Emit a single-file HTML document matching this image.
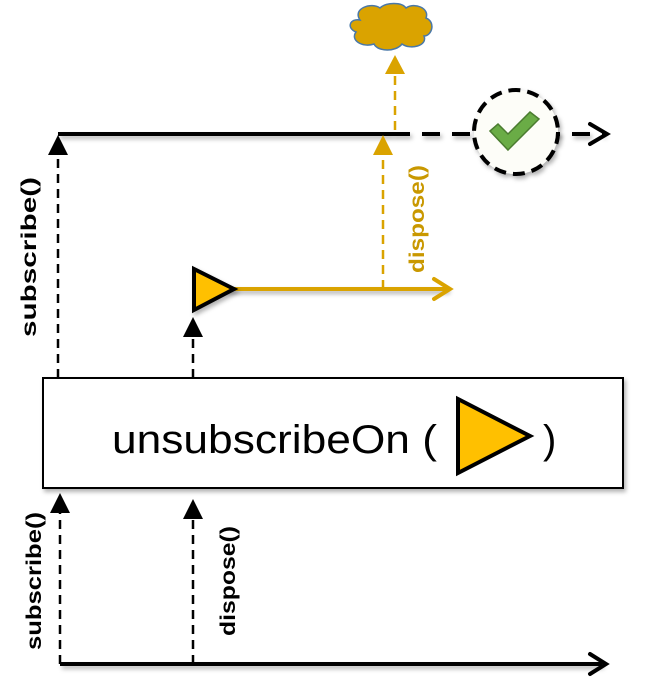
<!DOCTYPE html>
<html><head><meta charset="utf-8"><style>
html,body{margin:0;padding:0;background:#fff;}
svg{display:block;}
text{font-family:"Liberation Sans",sans-serif;}
</style></head><body>
<svg width="646" height="700" viewBox="0 0 646 700" xmlns="http://www.w3.org/2000/svg">
<defs>
<filter id="sh" filterUnits="userSpaceOnUse" x="0" y="0" width="646" height="700"><feDropShadow dx="2" dy="3" stdDeviation="2" flood-color="#000" flood-opacity="0.3"/></filter>
</defs>
<line x1="58" y1="134" x2="392" y2="134" stroke="#000" stroke-width="4" filter="url(#sh)"/>
<line x1="392" y1="134" x2="604" y2="134" stroke="#000" stroke-width="4" stroke-dasharray="18,12" filter="url(#sh)"/>
<polyline points="590,124 607,134 590,144" fill="none" stroke="#000" stroke-width="4" stroke-linecap="round"/>
<circle cx="516" cy="132" r="42" fill="#fdfdf8" stroke="#000" stroke-width="4" stroke-dasharray="12,7" filter="url(#sh)"/>
<polygon points="490,131 498,124 508,134 530,112 539,119 508,150" fill="#6aac46" stroke="#4b7c30" stroke-width="1.5"/>
<g fill="#daa300" stroke="#4a78a8" stroke-width="1.5">
<path d="M360,20 C352,8 372,2 380,8 C386,2 402,2 406,8 C414,2 430,8 426,18 C436,22 432,36 424,36 C428,46 410,50 402,44 C396,52 378,52 374,44 C362,48 350,40 356,32 C346,28 350,18 360,20 Z"/>
</g>
<line x1="395" y1="130" x2="395" y2="72" stroke="#daa300" stroke-width="2.5" stroke-dasharray="9,6"/>
<polygon points="385,74 395,55 405,74" fill="#daa300"/>
<line x1="383" y1="289" x2="383" y2="154" stroke="#daa300" stroke-width="2.5" stroke-dasharray="9,6"/>
<polygon points="373,155 383,135 393,155" fill="#daa300"/>
<text transform="translate(424,219) rotate(-90)" text-anchor="middle" font-size="21" font-weight="bold" fill="#c99800" textLength="108" lengthAdjust="spacingAndGlyphs">dispose()</text>
<line x1="225" y1="289" x2="448" y2="289" stroke="#daa300" stroke-width="4" filter="url(#sh)"/>
<polyline points="434,279 450,289 434,299" fill="none" stroke="#daa300" stroke-width="4" stroke-linecap="round"/>
<polygon points="194,269 194,310 234,289" fill="#ffc000" stroke="#000" stroke-width="4" filter="url(#sh)"/>
<line x1="193" y1="378" x2="193" y2="336" stroke="#000" stroke-width="2.5" stroke-dasharray="9,6"/>
<polygon points="183,337 193,317 203,337" fill="#000"/>
<line x1="58" y1="378" x2="58" y2="155" stroke="#000" stroke-width="2.5" stroke-dasharray="9,6"/>
<polygon points="48,155 58,135 68,155" fill="#000"/>
<text transform="translate(36,257) rotate(-90)" text-anchor="middle" font-size="21" font-weight="bold" fill="#000" textLength="160" lengthAdjust="spacingAndGlyphs">subscribe()</text>
<rect x="43" y="378" width="580" height="110" fill="#fff" stroke="#000" stroke-width="2" filter="url(#sh)"/>
<text x="112" y="453" font-size="40" textLength="325" lengthAdjust="spacingAndGlyphs" fill="#000">unsubscribeOn (</text>
<polygon points="458,399 458,473 530,436" fill="#ffc000" stroke="#000" stroke-width="4"/>
<text x="543" y="453" font-size="40" fill="#000">)</text>
<line x1="60" y1="664" x2="602" y2="664" stroke="#000" stroke-width="4" filter="url(#sh)"/>
<polyline points="590,654 606,664 590,674" fill="none" stroke="#000" stroke-width="4" stroke-linecap="round"/>
<line x1="60" y1="664" x2="60" y2="512" stroke="#000" stroke-width="2.5" stroke-dasharray="9,6"/>
<polygon points="50,513 60,493 70,513" fill="#000"/>
<line x1="193" y1="664" x2="193" y2="518" stroke="#000" stroke-width="2.5" stroke-dasharray="9,6"/>
<polygon points="183,519 193,499 203,519" fill="#000"/>
<text transform="translate(41,581) rotate(-90)" text-anchor="middle" font-size="21" font-weight="bold" fill="#000" textLength="138" lengthAdjust="spacingAndGlyphs">subscribe()</text>
<text transform="translate(235,581) rotate(-90)" text-anchor="middle" font-size="21" font-weight="bold" fill="#000" textLength="110" lengthAdjust="spacingAndGlyphs">dispose()</text>
</svg>
</body></html>
